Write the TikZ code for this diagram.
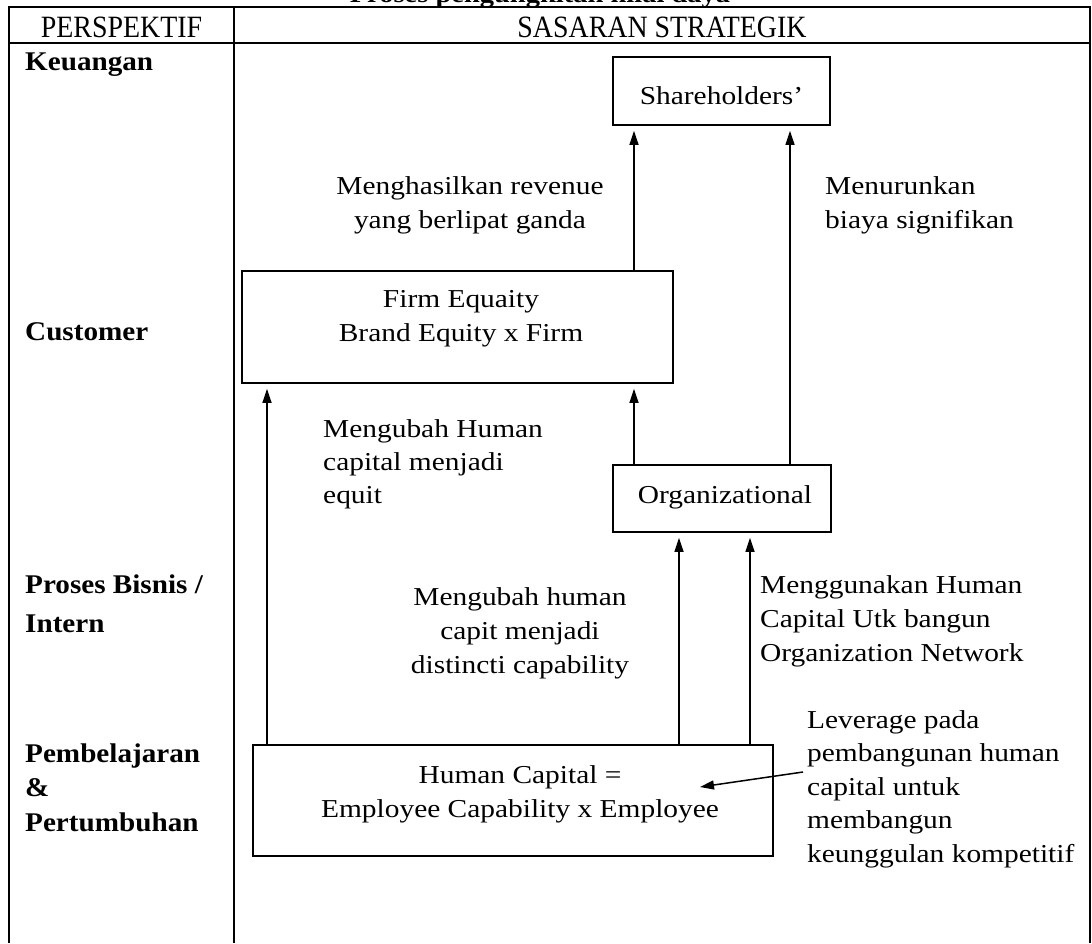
\documentclass[tikz,border=0pt]{standalone}
\usepackage{fontspec}
\setmainfont{Liberation Serif}[FakeStretch=1.14]
\newfontfamily\headfont{Liberation Serif}[FakeStretch=0.9]
\newfontfamily\labfont{Liberation Serif}[FakeStretch=1.08]
\usetikzlibrary{arrows.meta}
\begin{document}
\begin{tikzpicture}[x=1pt,y=-1pt,
  rule/.style={line width=1.6pt},
  box/.style={draw,line width=1.7pt,rectangle,inner sep=0pt},
  arr/.style={line width=1.5pt,-{Triangle[length=14pt,width=9pt]},shorten >=5pt},
  txt/.style={inner sep=0pt,font=\fontsize{25.8}{34}\selectfont},
  lab/.style={inner sep=0pt,anchor=base west,align=left,font=\labfont\bfseries\fontsize{27}{34.5}\selectfont},
  head/.style={inner sep=0pt,anchor=base,font=\headfont\fontsize{31}{36}\selectfont}]
\useasboundingbox (0,0) rectangle (1092,943);
\fill[white] (0,0) rectangle (1092,943);

% caption of the table, mostly above the page edge
\node[inner sep=0pt,anchor=base,font=\bfseries\fontsize{25}{30}\selectfont] (cap) at (540,2) {Proses pengungkitan nilai daya};

% table frame
\coordinate (tl) at (9,7);
\coordinate (tr) at (1090,7);
\coordinate (hl) at (9,43);
\coordinate (hr) at (1090,43);
\coordinate (bl) at (9,943);
\coordinate (br) at (1090,943);
\coordinate (dt) at (234,7);
\coordinate (db) at (234,943);
\draw[rule] (bl) -- (tl) -- (tr) -- (br);
\draw[line width=1.2pt] (hl) -- (hr);
\draw[rule] (dt) -- (db);

% header row
\node[head] (hp) at (121.5,37) {PERSPEKTIF};
\node[head] (hs) at (662,37) {SASARAN STRATEGIK};

% perspective labels (multi-line nodes are placed by their last baseline)
\node[lab] (lk) at (25,70) {Keuangan};
\node[lab] (lc) at (25,340) {Customer};
\node[lab,font=\labfont\bfseries\fontsize{27}{39}\selectfont] (lp) at (25,632) {Proses Bisnis /\\Intern};
\node[lab] (lb) at (25,831) {Pembelajaran\\\&\\Pertumbuhan};

% objective boxes
\node[box,minimum width=217pt,minimum height=68pt] (sh) at (721.5,91) {};
\node[txt,anchor=base] (sht) at (721.5,104) {Shareholders'};

\node[box,minimum width=431pt,minimum height=112pt] (firm) at (457.5,327) {};
\node[txt,anchor=base,align=center] (firmt) at (461,341) {Firm Equaity\\Brand Equity x Firm};

\node[box,minimum width=218pt,minimum height=67pt] (org) at (722,498.5) {};
\node[txt,anchor=base] (orgt) at (725,503) {Organizational};

\node[box,minimum width=520pt,minimum height=111pt] (hc) at (513,800.5) {};
\node[txt,anchor=base,align=center] (hct) at (520,817) {Human Capital =\\Employee Capability x Employee};

% connector columns
\coordinate (xA) at (634,0);
\coordinate (xB) at (790,0);
\coordinate (xC) at (267,0);
\coordinate (xD) at (679,0);
\coordinate (xE) at (750,0);

\draw[arr] (firm.north -| xA) -- (sh.south -| xA);
\draw[arr] (org.north -| xB) -- (sh.south -| xB);
\draw[arr] (hc.north -| xC) -- (firm.south -| xC);
\draw[arr] (org.north -| xA) -- (firm.south -| xA);
\draw[arr] (hc.north -| xD) -- (org.south -| xD);
\draw[arr] (hc.north -| xE) -- (org.south -| xE);

% connector labels
\node[txt,anchor=base,align=center] (l1) at (470,228) {Menghasilkan revenue\\yang berlipat ganda};
\node[txt,anchor=base west,align=left] (l2) at (825,228) {Menurunkan\\biaya signifikan};
\node[txt,anchor=base west,align=left,font=\fontsize{25.8}{33}\selectfont] (l3) at (323,503) {Mengubah Human\\capital menjadi\\equit};
\node[txt,anchor=base,align=center] (l4) at (520,673) {Mengubah human\\capit menjadi\\distincti capability};
\node[txt,anchor=base west,align=left] (l5) at (760,661) {Menggunakan Human\\Capital Utk bangun\\Organization Network};
\node[txt,anchor=base west,align=left,font=\fontsize{25.8}{33.5}\selectfont] (lev) at (807,862) {Leverage pada\\pembangunan human\\capital untuk\\membangun\\keunggulan kompetitif};

% leader from the note into the human capital box
\coordinate (levtail) at (803,772);
\coordinate (hctip) at (700,787);
\draw[line width=1.5pt,-{Triangle[length=14pt,width=9pt]}] (levtail) -- (hctip);
\end{tikzpicture}
\end{document}
